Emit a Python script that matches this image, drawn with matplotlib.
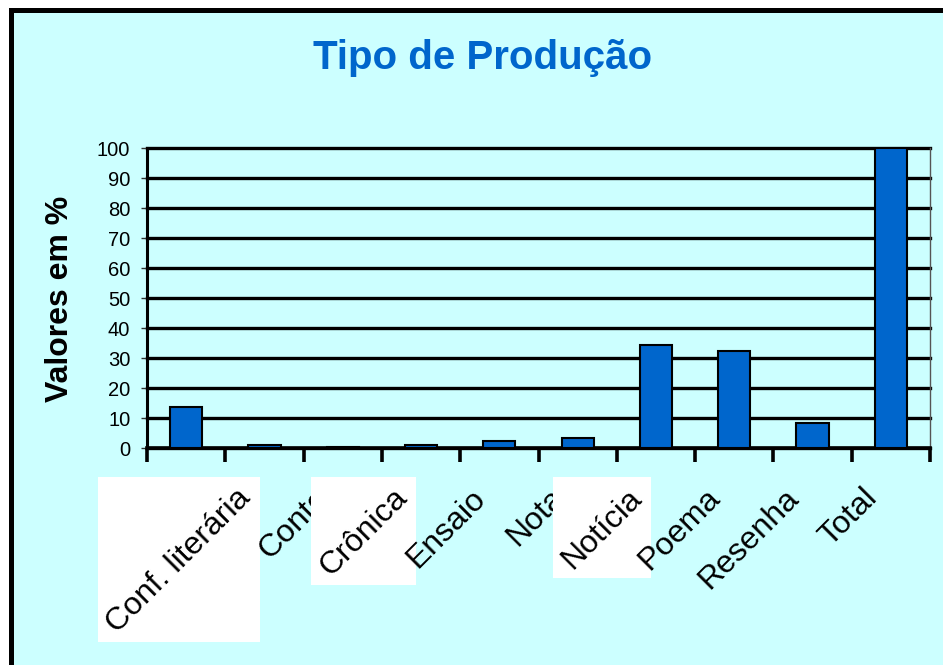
import numpy as np
import matplotlib
matplotlib.use('Agg')
import matplotlib.pyplot as plt
from matplotlib.patches import Rectangle
from matplotlib.transforms import IdentityTransform

# dados
categorias = ["", "Conf. literária", "Conto", "Crônica", "Ensaio", "Nota",
              "Notícia", "Poema", "Resenha", "Total"]
valores = [13.8, 0.9, 0.2, 0.9, 2.3, 3.4, 34.3, 32.3, 8.4, 100]
com_fundo = ["Conf. literária", "Crônica", "Notícia"]   # rotulos com caixa branca
y_ticks = list(range(0, 101, 10))

fundo = '#CCFFFF'
azul = '#0066CC'
W, H = 943, 665

plt.rcParams['font.family'] = ['Liberation Sans', 'DejaVu Sans']

fig = plt.figure(figsize=(W / 100, H / 100), dpi=100, facecolor='white')

# moldura (so esquerda e topo aparecem)
moldura = Rectangle((10.5 / W, -0.2), 1.5, 1.2 - 9.5 / H, transform=fig.transFigure,
                    facecolor=fundo, edgecolor='black', linewidth=3.6, zorder=-5)
fig.add_artist(moldura)

ax = fig.add_axes([147 / W, 217 / H, 783 / W, 300 / H])
ax.set_facecolor(fundo)

x = np.arange(len(categorias))
ax.bar(x, valores, width=0.41, color=azul, edgecolor='black', linewidth=1.5, zorder=3)

ax.set_xlim(-0.5, len(categorias) - 0.5)
ax.set_ylim(0, 100)
ax.set_yticks(y_ticks)
ax.yaxis.grid(True, color='black', linewidth=2.4)
ax.set_axisbelow(True)
for gl in ax.get_ygridlines():
    gl.set_clip_on(False)

ax.spines['top'].set_visible(False)
ax.spines['right'].set_color('#555555')
ax.spines['right'].set_linewidth(1.0)
ax.spines['left'].set_linewidth(2.2)
ax.spines['bottom'].set_linewidth(2.6)

ax.tick_params(axis='y', length=4, width=1, color='#333333', labelsize=14.5, pad=8)
ax.set_xticks(np.arange(-0.5, len(categorias), 1))
ax.set_xticklabels([])
ax.tick_params(axis='x', length=10, width=2.6, color='black', direction='out')

# rotulos das categorias, girados; cada um desenhado depois do anterior
textos = []
for i, nome in enumerate(categorias):
    t = ax.annotate(nome, xy=(i, 0), xycoords=('data', 'axes fraction'),
                    xytext=(-29, -35), textcoords='offset pixels',
                    rotation=45, rotation_mode='anchor', ha='right', va='top',
                    fontsize=23, zorder=10 + 2 * i + 1, annotation_clip=False)
    textos.append(t)

fig.text(483 / W, 1 - 58 / H, 'Tipo de Produção', ha='center', va='center',
         fontsize=29, fontweight='bold', color=azul)
fig.text(60 / W, 1 - 299 / H, 'Valores em %', ha='center', va='center',
         rotation=90, fontsize=23, fontweight='bold')

fig.canvas.draw()
pad = 3
for i, t in enumerate(textos):
    if t.get_text() in com_fundo:
        bb = t.get_window_extent()
        ax.add_patch(Rectangle((bb.x0 - pad, bb.y0 - pad), bb.width + 2 * pad,
                               bb.height + 2 * pad + 3, transform=IdentityTransform(),
                               facecolor='white', edgecolor='none', zorder=10 + 2 * i,
                               clip_on=False))

fig.savefig('out.png', dpi=100, facecolor='white')
